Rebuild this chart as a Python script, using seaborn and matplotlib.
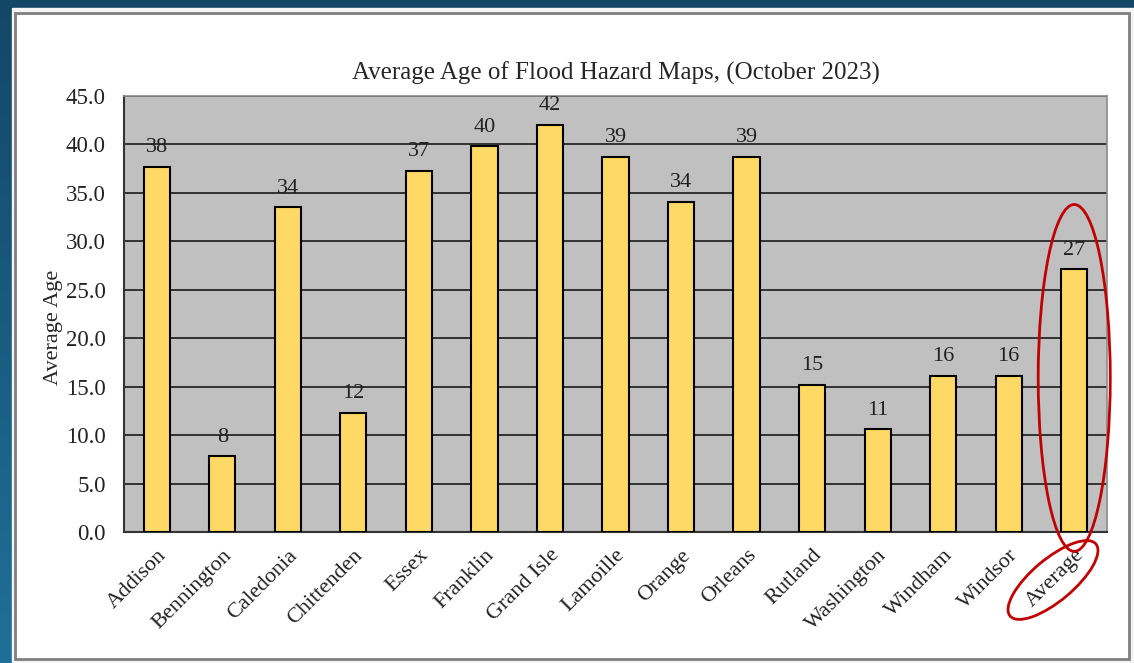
import numpy as np
import pandas as pd
import seaborn as sns
import matplotlib.pyplot as plt
from matplotlib.patches import Rectangle, Ellipse
from matplotlib.transforms import IdentityTransform

counties = ["Addison", "Bennington", "Caledonia", "Chittenden", "Essex",
            "Franklin", "Grand Isle", "Lamoille", "Orange", "Orleans",
            "Rutland", "Washington", "Windham", "Windsor", "Average"]
avg_age = [37.7, 7.8, 33.5, 12.3, 37.3, 39.8, 42.0, 38.7, 34.1, 38.7,
           15.2, 10.6, 16.1, 16.1, 27.1]
y_ticks = [0, 5, 10, 15, 20, 25, 30, 35, 40, 45]

df = pd.DataFrame({"County": counties, "Age": avg_age})

sns.set_style("white")
plt.rcParams["font.family"] = ["Liberation Serif", "DejaVu Serif"]

fig = plt.figure(figsize=(11.34, 6.63), dpi=100)

# slide background: blue band on top/left, white panel with grey frame
bg = fig.add_axes([0, 0, 1, 1], zorder=-10)
grad = np.linspace(0, 1, 256).reshape(-1, 1)
bg.imshow(grad, aspect="auto", extent=[0, 1, 0, 1], origin="lower",
          cmap=sns.blend_palette(["#1f7099", "#134766"], as_cmap=True))
bg.add_patch(Rectangle((12 / 1134, 0), 1, 1 - 8 / 663, color="#f4f4f4"))
bg.add_patch(Rectangle((15 / 1134, 4 / 663), (1129 - 15) / 1134, (659 - 13) / 663,
                       facecolor="white", edgecolor="#7f7f7f", lw=2))
bg.set_xlim(0, 1)
bg.set_ylim(0, 1)
bg.axis("off")

ax = fig.add_axes([124 / 1134, 1 - 532 / 663, (1107 - 124) / 1134, (532 - 96) / 663])
sns.barplot(data=df, x="County", y="Age", color="#FFD966", saturation=1,
            edgecolor="black", linewidth=1.5, width=0.4, ax=ax, zorder=3)

ax.set_facecolor("#c0c0c0")
ax.set_ylim(0, 45)
ax.set_xlim(-0.5, len(counties) - 0.5)
ax.set_yticks(y_ticks)
ax.set_yticklabels([f"{v:.1f}" for v in y_ticks], fontsize=16.5, color="#222222")
ax.yaxis.grid(True, color="#1a1a1a", lw=1.2, zorder=1)
ax.set_axisbelow(True)

ax.set_xticks(range(len(counties)))
ax.set_xticklabels(counties, rotation=45, ha="right", rotation_mode="anchor",
                   fontsize=16, color="#222222")
ax.set_xticks(np.arange(-0.5, len(counties)), minor=True)
ax.tick_params(axis="x", which="major", length=0, pad=10)
ax.tick_params(axis="x", which="minor", length=6, width=1.2, color="#333333", direction="out")
ax.tick_params(axis="y", length=6, width=1.2, color="#333333", direction="out", pad=7)

for side in ["top", "right"]:
    ax.spines[side].set_color("#8c8c8c")
    ax.spines[side].set_linewidth(1.2)
for side in ["left", "bottom"]:
    ax.spines[side].set_color("#333333")
    ax.spines[side].set_linewidth(1.5)

for i, v in enumerate(avg_age):
    ax.annotate(f"{round(v)}", (i, v), xytext=(0, 7), textcoords="offset points",
                ha="center", va="bottom", fontsize=16, color="#222222")

ax.set_xlabel("")
ax.set_ylabel("Average Age", fontsize=16)
ax.yaxis.set_label_coords(-0.062, 0.47)
ax.set_title("Average Age of Flood Hazard Maps, (October 2023)", fontsize=18, pad=12)

# red highlight rings around the Average bar and label
ax.add_patch(Ellipse((14, 15.9), 1.1, 35.8, fill=False, edgecolor="#c00000",
                     lw=2, clip_on=False, zorder=5))
fig.add_artist(Ellipse((1053, 663 - 580), 112, 42, angle=40, fill=False,
                       edgecolor="#c00000", lw=2, transform=IdentityTransform()))

fig.savefig("out.png", dpi=100)
